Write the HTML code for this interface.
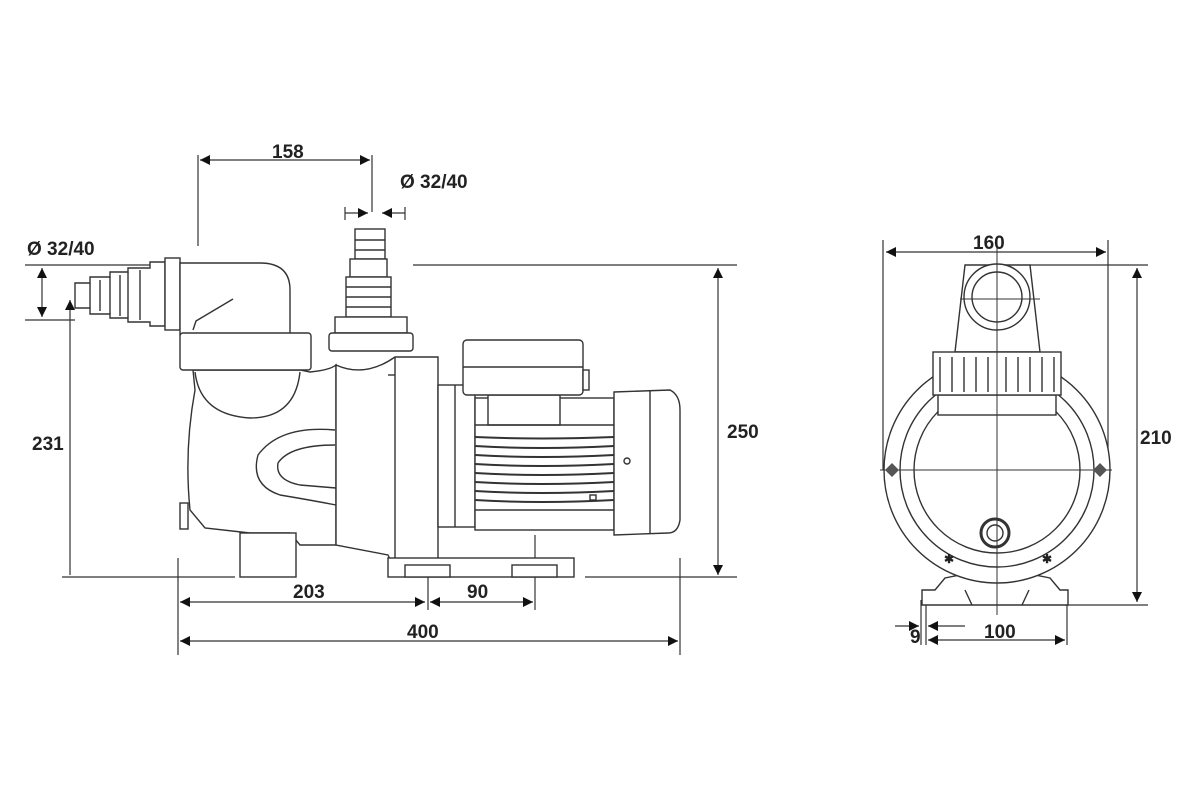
<!DOCTYPE html>
<html><head><meta charset="utf-8"><style>
body{margin:0;background:#fff}
svg{display:block}
text{font-family:"Liberation Sans",sans-serif;font-weight:bold;fill:#222}
</style></head><body>
<svg width="1200" height="800" viewBox="0 0 1200 800" xmlns="http://www.w3.org/2000/svg">
<defs>
<marker id="a" viewBox="0 0 10 10" refX="10" refY="5" markerWidth="15" markerHeight="10" orient="auto-start-reverse" markerUnits="userSpaceOnUse"><path d="M0,0L10,5L0,10z" fill="#111"/></marker>
</defs>
<g stroke="#333" stroke-width="1.2" fill="none">
<line x1="200" y1="160" x2="370" y2="160" marker-start="url(#a)" marker-end="url(#a)"/>
<line x1="198" y1="155" x2="198" y2="246"/>
<line x1="372" y1="155" x2="372" y2="212"/>
<line x1="345" y1="213" x2="368" y2="213" marker-end="url(#a)"/>
<line x1="405" y1="213" x2="382" y2="213" marker-end="url(#a)"/>
<line x1="345" y1="207" x2="345" y2="220"/><line x1="405" y1="207" x2="405" y2="220"/>
<line x1="413" y1="265" x2="737" y2="265"/>
<line x1="718" y1="268" x2="718" y2="575" marker-start="url(#a)" marker-end="url(#a)"/>
<line x1="25" y1="265" x2="165" y2="265"/>
<line x1="25" y1="320" x2="75" y2="320"/>
<line x1="42" y1="268" x2="42" y2="317" marker-start="url(#a)" marker-end="url(#a)"/>
<line x1="70" y1="300" x2="70" y2="575" marker-start="url(#a)"/>
<line x1="62" y1="577" x2="235" y2="577"/>
<line x1="585" y1="577" x2="737" y2="577"/>
<line x1="180" y1="602" x2="425" y2="602" marker-start="url(#a)" marker-end="url(#a)"/>
<line x1="430" y1="602" x2="533" y2="602" marker-start="url(#a)" marker-end="url(#a)"/>
<line x1="180" y1="641" x2="678" y2="641" marker-start="url(#a)" marker-end="url(#a)"/>
<line x1="178" y1="558" x2="178" y2="655"/>
<line x1="428" y1="560" x2="428" y2="610"/>
<line x1="535" y1="535" x2="535" y2="610"/>
<line x1="680" y1="558" x2="680" y2="655"/>
</g>
<g stroke="#333" stroke-width="1.4" fill="#fff">
<path d="M75,283 L90,283 L90,277 L110,277 L110,272 L128,272 L128,268 L150,268 L150,262 L165,262 L165,326 L150,326 L150,322 L128,322 L128,318 L110,318 L110,314 L90,314 L90,308 L75,308 Z"/>
<line x1="90" y1="283" x2="90" y2="308"/><line x1="100" y1="280" x2="100" y2="311"/><line x1="110" y1="277" x2="110" y2="314"/><line x1="120" y1="275" x2="120" y2="316"/><line x1="128" y1="272" x2="128" y2="318"/><line x1="140" y1="270" x2="140" y2="320"/>
<rect x="165" y="258" width="15" height="72"/>
<path d="M180,263 L260,263 Q290,263 290,290 L290,335 L180,335 Z"/>
<path d="M233,299 L196,321 L193,330" fill="none"/>
<path d="M193,370 L300,370 L310,372 Q330,370 336,365 L336,545 L300,545 L290,533 L250,533 L205,528 L190,510 Q184,450 195,390 Z"/>
<path d="M195,372 Q200,415 250,418 Q295,418 300,372" fill="none"/>
<path d="M335,430 Q280,425 258,455 Q250,485 280,495 Q310,500 336,505" fill="none"/>
<path d="M335,445 Q290,445 278,463 Q275,480 300,485 L336,488" fill="none"/>
<rect x="180" y="503" width="8" height="26"/>
<rect x="240" y="533" width="56" height="44"/>
<rect x="180" y="333" width="131" height="37" rx="3"/>
<rect x="355" y="229" width="30" height="30"/>
<line x1="355" y1="240" x2="385" y2="240"/><line x1="355" y1="250" x2="385" y2="250"/>
<rect x="350" y="259" width="37" height="18"/>
<rect x="346" y="277" width="45" height="40"/>
<line x1="346" y1="287" x2="391" y2="287"/><line x1="346" y1="297" x2="391" y2="297"/><line x1="346" y1="307" x2="391" y2="307"/>
<rect x="335" y="317" width="72" height="16"/>
<rect x="329" y="333" width="84" height="18" rx="3"/>
<path d="M336,365 Q365,378 395,357 L438,357 L438,570 L395,570 L388,555 L336,545 Z"/>
<line x1="395" y1="357" x2="395" y2="570"/>
<line x1="388" y1="375" x2="395" y2="375"/>
<rect x="388" y="558" width="186" height="19"/>
<rect x="405" y="565" width="45" height="12"/><rect x="512" y="565" width="45" height="12"/>
<rect x="438" y="385" width="37" height="142"/>
<line x1="455" y1="385" x2="455" y2="527"/>
<rect x="475" y="398" width="139" height="132"/>
<rect x="488" y="395" width="72" height="30"/>
<line x1="475" y1="425" x2="614" y2="425"/>
<line x1="475" y1="510" x2="614" y2="510"/>
<path d="M475,437 Q540,440 614,437 M475,446 Q540,450 614,446 M475,455 Q540,459 614,455 M475,464 Q540,468 614,464 M475,473 Q540,477 614,473 M475,482 Q540,486 614,482 M475,491 Q540,495 614,491 M475,500 Q540,504 614,500" fill="none" stroke-width="2"/>
<path d="M614,392 L670,390 Q680,395 680,410 L680,520 Q678,533 668,533 L614,535 Z"/>
<line x1="650" y1="391" x2="650" y2="533"/>
<circle cx="627" cy="461" r="3"/>
<rect x="590" y="495" width="6" height="5"/>
<rect x="463" y="340" width="120" height="55" rx="4"/>
<line x1="463" y1="367" x2="583" y2="367"/>
<rect x="583" y="370" width="6" height="20"/>
</g>
<g stroke="#333" stroke-width="1.2" fill="none">
<line x1="886" y1="252" x2="1106" y2="252" marker-start="url(#a)" marker-end="url(#a)"/>
<line x1="883" y1="240" x2="883" y2="470"/><line x1="1108" y1="240" x2="1108" y2="470"/>
<line x1="1030" y1="265" x2="1148" y2="265"/>
<line x1="1065" y1="605" x2="1148" y2="605"/>
<line x1="1137" y1="268" x2="1137" y2="602" marker-start="url(#a)" marker-end="url(#a)"/>
<line x1="928" y1="640" x2="1065" y2="640" marker-start="url(#a)" marker-end="url(#a)"/>
<line x1="895" y1="626" x2="919" y2="626" marker-end="url(#a)"/>
<line x1="965" y1="626" x2="928" y2="626" marker-end="url(#a)"/>
<line x1="921" y1="600" x2="921" y2="645"/><line x1="926" y1="600" x2="926" y2="645"/>
<line x1="1067" y1="600" x2="1067" y2="645"/>
</g>
<g stroke="#333" stroke-width="1.4" fill="none">
<path d="M935,590 L945,578 L960,575 Q997,590 1035,575 L1050,578 L1060,590 L1068,590 L1068,605 L922,605 L922,590 Z" fill="#fff"/>
<path d="M965,590 L972,605 M1029,590 L1022,605"/>
<circle cx="997" cy="470" r="113" fill="#fff"/>
<circle cx="997" cy="470" r="97"/>
<circle cx="997" cy="470" r="83"/>
<path d="M955,352 L965,265 L1030,265 L1040,352 Z" fill="#fff"/>
<circle cx="997" cy="297" r="33" fill="#fff"/>
<circle cx="997" cy="297" r="25"/>
<rect x="938" y="395" width="118" height="20" fill="#fff"/>
<rect x="933" y="352" width="128" height="43" fill="#fff"/>
<path d="M940,357 v35 M952,357 v35 M964,357 v35 M976,357 v35 M988,357 v35 M1006,357 v35 M1018,357 v35 M1030,357 v35 M1042,357 v35 M1054,357 v35"/>
<circle cx="995" cy="533" r="14" stroke-width="3"/>
<circle cx="995" cy="533" r="8"/>
<line x1="997" y1="240" x2="997" y2="615" stroke-width="1"/>
<line x1="880" y1="470" x2="1112" y2="470" stroke-width="1"/>
<line x1="960" y1="299" x2="1040" y2="299" stroke-width="1"/>
</g>
<path d="M885,470 l7,-7 l7,7 l-7,7z M1093,470 l7,-7 l7,7 l-7,7z" fill="#555"/>
<text x="944" y="563" font-size="12" fill="#444">✱</text><text x="1042" y="563" font-size="12" fill="#444">✱</text>
<g font-size="19">
<text x="272" y="158">158</text>
<text x="400" y="188">Ø 32/40</text>
<text x="27" y="255">Ø 32/40</text>
<text x="32" y="450">231</text>
<text x="727" y="438">250</text>
<text x="293" y="598">203</text>
<text x="467" y="598">90</text>
<text x="407" y="638">400</text>
<text x="973" y="249">160</text>
<text x="1140" y="444">210</text>
<text x="910" y="643">9</text>
<text x="984" y="638">100</text>
</g>
</svg>
</body></html>
